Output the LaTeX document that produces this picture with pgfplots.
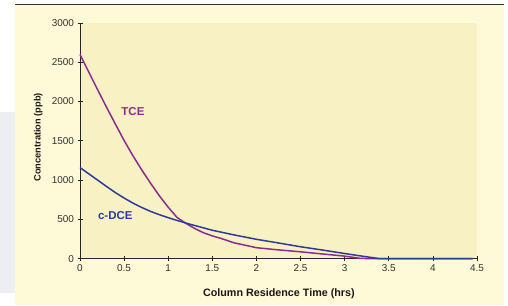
\documentclass[border=0pt]{standalone}
\usepackage{fontspec}
\setmainfont{Liberation Sans}
\usepackage{pgfplots}
\pgfplotsset{compat=1.18}
\definecolor{outer}{HTML}{FEF9D6}
\definecolor{plotbg}{HTML}{F7F1C3}
\definecolor{tce}{HTML}{8E2A90}
\definecolor{dce}{HTML}{2E3A9C}
\definecolor{side}{HTML}{ECEEF1}
\begin{document}
\begin{tikzpicture}[x=1bp,y=1bp]
\useasboundingbox (0,0) rectangle (508,305);
\fill[white] (0,0) rectangle (508,305);
\fill[side] (0,12) rectangle (15,193);
\fill[outer] (15,0) rectangle (504,300);
\draw[line width=1.5bp, black!80] (15,300.5) -- (504,300.5);
\begin{axis}[
  at={(80bp,46.3bp)}, anchor=south west,
  scale only axis, width=397bp, height=235.7bp,
  xmin=0, xmax=4.5, ymin=0, ymax=3000,
  axis x line*=bottom, axis y line*=left,
  axis line style={black!85, line width=0.8pt},
  axis background/.style={fill=plotbg},
  xtick={0,0.5,1,1.5,2,2.5,3,3.5,4,4.5},
  ytick={0,500,1000,1500,2000,2500,3000},
  tick align=center, major tick length=5bp,
  tick style={black!85, line width=0.8pt},
  /pgf/number format/assume math mode=true,
  /pgf/number format/1000 sep={},
  tick label style={font=\fontsize{10}{11}\selectfont, text=black!80},
  xlabel={\textbf{Column Residence Time (hrs)}},
  ylabel={\textbf{Concentration (ppb)}},
  xlabel style={font=\fontsize{10.8}{12}\selectfont, text=black!90, at={(axis description cs:0.501,-0.15)}, anchor=center},
  ylabel style={font=\fontsize{9.3}{11}\selectfont, text=black!90, at={(axis description cs:-0.105,0.515)}, anchor=center},
  clip=false,
]
\addplot[tce, line width=1.5bp] coordinates {
(0,2600) (0.1,2375) (0.2,2150) (0.3,1930) (0.4,1715) (0.5,1505) (0.6,1310)
(0.7,1130) (0.8,960) (0.9,800) (1.0,655) (1.1,525) (1.2,450) (1.3,385)
(1.4,330) (1.5,290) (1.6,258) (1.74,204) (2.0,140) (2.25,112) (2.49,89)
(2.75,60) (2.99,34) (3.17,5) (3.3,0) (4.45,0)};
\addplot[dce, line width=1.5bp] coordinates {
(0,1160) (0.1,1080) (0.2,1000) (0.3,920) (0.4,842) (0.5,772) (0.6,708)
(0.7,652) (0.8,602) (0.9,560) (1.0,522) (1.1,487) (1.25,438) (1.5,362)
(1.75,302) (2.0,247) (2.25,200) (2.5,152) (2.75,110) (3.0,66) (3.2,32)
(3.4,0) (4.45,0)};
\node[text=tce, font=\bfseries\fontsize{11.5}{12}\selectfont] at (axis cs:0.6,1867) {TCE};
\node[text=dce, font=\bfseries\fontsize{11.5}{12}\selectfont] at (axis cs:0.40,550) {c-DCE};
\end{axis}
\end{tikzpicture}
\end{document}
